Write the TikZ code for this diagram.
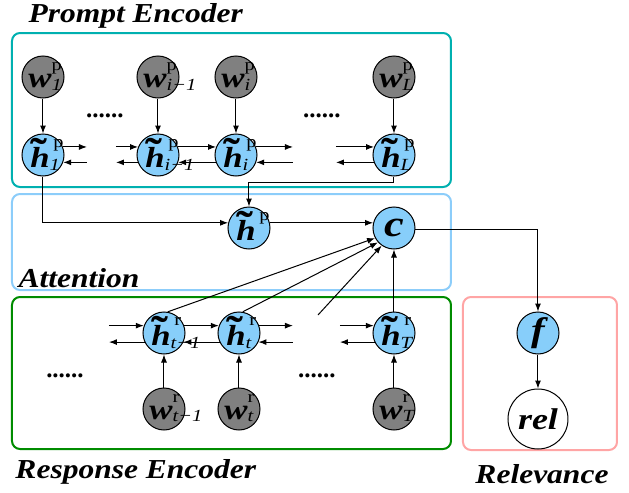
\documentclass[tikz,border=0pt]{standalone}
\usepackage{fontspec}
\setmainfont{Liberation Serif}
\newfontfamily\lblfont{Liberation Serif}[FakeStretch=1.2]
\newfontfamily\titlefont{Liberation Serif}[FakeStretch=1.15]
\usepackage{tikz}
\usetikzlibrary{arrows.meta}

\definecolor{promptcol}{RGB}{0,176,176}
\definecolor{attcol}{RGB}{140,205,250}
\definecolor{respcol}{RGB}{0,140,0}
\definecolor{relcol}{RGB}{255,165,165}
\definecolor{hblue}{RGB}{135,206,250}
\definecolor{wgray}{RGB}{128,128,128}

\begin{document}
\begin{tikzpicture}[x=0.5pt, y=-0.5pt, line width=0.5pt,
    >={Latex[length=4pt,width=3pt]},
    hnode/.style 2 args={circle, draw, fill=hblue, minimum size=21pt, inner sep=0pt,
      text height=12pt, text depth=0pt, font=\lblfont\fontsize{14.5}{14}\selectfont,
      node contents={\makebox[0pt]{\rlap{\hspace{0.2pt}\fontsize{21}{21}\selectfont\bfseries ˜}%
        \textbf{\textit{h}}%
        \rlap{\raisebox{10pt}{\fontsize{8.5}{9}\selectfont\upshape\hspace{1.8pt}#1}}%
        \rlap{\raisebox{-1.5pt}{\fontsize{8.5}{9}\selectfont\itshape #2}}\hspace*{3pt}}}},
    wnode/.style 2 args={circle, draw, fill=wgray, minimum size=21pt, inner sep=0pt,
      text height=10pt, text depth=0pt, font=\lblfont\fontsize{14.5}{14}\selectfont,
      node contents={\makebox[0pt]{\textbf{\textit{w}}%
        \rlap{\raisebox{8.5pt}{\fontsize{8.5}{9}\selectfont\upshape #1}}%
        \rlap{\raisebox{-1.5pt}{\fontsize{8.5}{9}\selectfont\itshape #2}}\hspace*{3pt}}}},
    onode/.style={circle, draw, fill=hblue, minimum size=21pt, inner sep=0pt},
    title/.style={font=\titlefont\fontsize{13.7}{14}\selectfont\bfseries\itshape, inner sep=0pt, anchor=base west},
    dots/.style={font=\fontsize{12.5}{13}\selectfont\bfseries, inner sep=0pt, anchor=base},
    box/.style={line width=1pt, rounded corners=4pt}
    ]
    \useasboundingbox (0,0) rectangle (629,493);
    % boxes
    \draw[box, promptcol] (12,33) rectangle (451,187);
    \draw[box, attcol] (12,194) rectangle (451,290);
    \draw[box, respcol] (12,297) rectangle (451,449);
    \draw[box, relcol] (463,297) rectangle (617,450);
    \node[title] (tprompt) at (28,22) {Prompt Encoder};
    \node[title] (tatt) at (18,287) {Attention};
    \node[title] (tresp) at (15,478) {Response Encoder};
    \node[title] (trel) at (475,483) {Relevance};

    % prompt encoder
    \node (wp1) at (43,77) [wnode={p}{1}];
    \node (wpm) at (158,77) [wnode={p}{i\textminus 1}];
    \node (wpi) at (236,77) [wnode={p}{i}];
    \node (wpL) at (394,77) [wnode={p}{L}];
    \node (hp1) at (43,155) [hnode={p}{1}];
    \node (hpm) at (158,155) [hnode={p}{i\textminus 1}];
    \node (hpi) at (236,155) [hnode={p}{i}];
    \node (hpL) at (394,155) [hnode={p}{L}];
    \node[dots] (dp1) at (105,117) {......};
    \node[dots] (dp2) at (322,117) {......};
    \coordinate (sp1) at (87,155);
    \coordinate (spm) at (116,155);
    \coordinate (spi) at (293,155);
    \coordinate (spL) at (336,155);
    \draw[->] (wp1) -- (hp1);
    \draw[->] (wpm) -- (hpm);
    \draw[->] (wpi) -- (hpi);
    \draw[->] (wpL) -- (hpL);
    \draw[->] (hp1.22) -- (hp1.22 -| sp1);
    \draw[->] (hp1.-20 -| sp1) -- (hp1.-20);
    \draw[->] (spm |- hpm.158) -- (hpm.158);
    \draw[->] (hpm.200) -- (spm |- hpm.200);
    \draw[->] (hpm.22) -- (hpi.158);
    \draw[->] (hpi.200) -- (hpm.-20);
    \draw[->] (hpi.22) -- (hpi.22 -| spi);
    \draw[->] (hpi.-20 -| spi) -- (hpi.-20);
    \draw[->] (spL |- hpL.158) -- (hpL.158);
    \draw[->] (hpL.200) -- (spL |- hpL.200);

    % attention
    \node (hp) at (249,228) [hnode={p}{}];
    \node[onode, font=\lblfont\fontsize{18.5}{19}\selectfont\bfseries\itshape] (c) at (394,228) {c};
    \draw[->] (hp1) |- (hp.166);
    \draw[->] (hpL.south) -- ++(0,6) -| (hp);
    \draw[->] (hp.14) -- (c.166);

    % response encoder
    \node (hrm) at (164,333) [hnode={r}{t\textminus 1}];
    \node (hrt) at (239,333) [hnode={r}{t}];
    \node (hrT) at (394,333) [hnode={r}{T}];
    \node (wrm) at (164,409) [wnode={r}{t\textminus 1}];
    \node (wrt) at (239,409) [wnode={r}{t}];
    \node (wrT) at (394,409) [wnode={r}{T}];
    \node[dots] (dr1) at (65,377) {......};
    \node[dots] (dr2) at (317,377) {......};
    \coordinate (srm) at (109,333);
    \coordinate (srt) at (293,333);
    \coordinate (srT) at (340,333);
    \coordinate (sa) at (318,315);
    \draw[->] (wrm) -- (hrm);
    \draw[->] (wrt) -- (hrt);
    \draw[->] (wrT) -- (hrT);
    \draw[->] (srm |- hrm.160) -- (hrm.160);
    \draw[->] (hrm.205) -- (srm |- hrm.205);
    \draw[->] (hrm.20) -- (hrt.160);
    \draw[->] (hrt.205) -- (hrm.-25);
    \draw[->] (hrt.20) -- (hrt.20 -| srt);
    \draw[->] (hrt.-25 -| srt) -- (hrt.-25);
    \draw[->] (srT |- hrT.160) -- (hrT.160);
    \draw[->] (hrT.205) -- (srT |- hrT.205);
    \draw[->] (hrm.80) -- (c.208);
    \draw[->] (hrt.80) -- (c.222);
    \draw[->] (sa) -- (c.235);
    \draw[->] (hrT) -- (c);

    % relevance
    \node[onode, font=\lblfont\fontsize{17}{17}\selectfont\bfseries\itshape] (f) at (538,333) {f};
    \node[circle, draw, fill=white, minimum size=30pt, inner sep=0pt,
      font=\lblfont\fontsize{15}{15}\selectfont\bfseries\itshape] (rel) at (538,419) {rel};
    \draw[->] (c.-5) -| (f);
    \draw[->] (f) -- (rel);
  \end{tikzpicture}
\end{document}
